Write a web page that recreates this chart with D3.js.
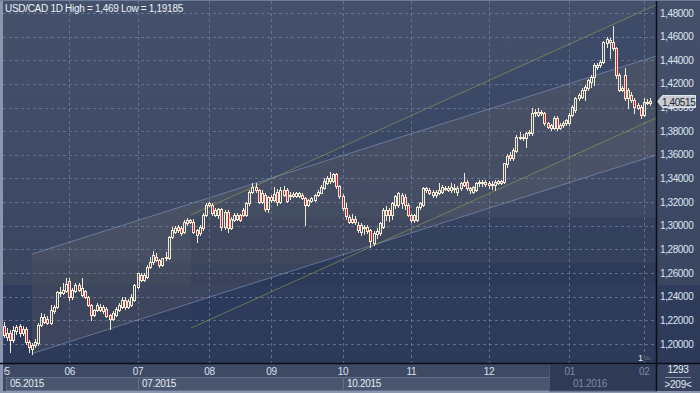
<!DOCTYPE html>
<html><head><meta charset="utf-8">
<script src="https://cdn.jsdelivr.net/npm/d3@7"></script>
<style>html,body{margin:0;padding:0;background:#3a4661;overflow:hidden}svg{display:block}</style>
</head><body><svg id="c" width="700" height="393"></svg>
<script>
// ---------------- DATA ----------------
const symbol = "USD/CAD", period = "1D";
const openP = [
1.2152,1.2062,1.2090,1.2034,1.2110,1.2150,1.2090,1.2130,1.2020,1.1960,
1.1990,1.2010,1.2160,1.2190,1.2215,1.2175,1.2275,1.2315,1.2430,1.2430,
1.2445,1.2530,1.2400,1.2450,1.2500,1.2414,1.2450,1.2400,1.2330,1.2245,
1.2287,1.2315,1.2275,1.2300,1.2245,1.2210,1.2245,1.2287,1.2315,1.2372,
1.2315,1.2330,1.2372,1.2485,1.2583,1.2541,1.2570,1.2654,1.2690,1.2740,
1.2710,1.2668,1.2724,1.2725,1.2908,1.2950,1.2990,1.2980,1.2950,1.3020,
1.3035,1.3035,1.2964,1.2936,1.2980,1.3091,1.3176,1.3176,1.3090,1.3090,
1.3140,1.2990,1.3120,1.2980,1.3050,1.3060,1.3090,1.3133,1.3091,1.3190,
1.3290,1.3330,1.3300,1.3200,1.3260,1.3140,1.3240,1.3215,1.3290,1.3200,
1.3300,1.3300,1.3250,1.3265,1.3250,1.3255,1.3260,1.3235,1.3175,1.3210,
1.3218,1.3260,1.3280,1.3320,1.3360,1.3375,1.3380,1.3435,1.3335,1.3250,
1.3150,1.3077,1.3035,1.3060,1.3010,1.2950,1.2978,1.2992,1.2964,1.2851,
1.2930,1.2936,1.2992,1.3091,1.3133,1.3091,1.3180,1.3176,1.3190,1.3246,
1.3176,1.3091,1.3049,1.3049,1.3160,1.3176,1.3300,1.3303,1.3260,1.3260,
1.3274,1.3288,1.3320,1.3305,1.3303,1.3320,1.3288,1.3317,1.3345,1.3373,
1.3303,1.3288,1.3303,1.3359,1.3373,1.3355,1.3365,1.3355,1.3345,1.3360,
1.3365,1.3373,1.3520,1.3599,1.3570,1.3630,1.3745,1.3754,1.3740,1.3782,
1.3782,1.3951,1.3937,1.3951,1.3951,1.3867,1.3824,1.3824,1.3909,1.3824,
1.3850,1.3867,1.3867,1.3937,1.3979,1.4078,1.4092,1.4149,1.4163,1.4219,
1.4261,1.4346,1.4360,1.4388,1.4543,1.4557,1.4557,1.4501,1.4149,1.4149,
1.4275,1.4078,1.4106,1.4064,1.3993,1.4008,1.3937,1.4040,1.4036];
const highP = [
1.2189,1.2132,1.2118,1.2150,1.2160,1.2165,1.2150,1.2140,1.2030,1.2005,
1.2040,1.2175,1.2260,1.2250,1.2240,1.2330,1.2330,1.2450,1.2480,1.2520,
1.2555,1.2555,1.2470,1.2520,1.2520,1.2555,1.2460,1.2410,1.2340,1.2300,
1.2350,1.2340,1.2330,1.2315,1.2255,1.2275,1.2310,1.2350,1.2400,1.2400,
1.2380,1.2420,1.2510,1.2600,1.2600,1.2600,1.2670,1.2740,1.2790,1.2770,
1.2720,1.2730,1.2780,1.2915,1.2990,1.3000,1.3010,1.2995,1.3050,1.3070,
1.3060,1.3055,1.2975,1.3010,1.3105,1.3190,1.3200,1.3195,1.3150,1.3150,
1.3150,1.3135,1.3130,1.3075,1.3110,1.3105,1.3100,1.3150,1.3200,1.3300,
1.3360,1.3365,1.3310,1.3300,1.3275,1.3250,1.3260,1.3330,1.3310,1.3330,
1.3340,1.3320,1.3290,1.3290,1.3290,1.3285,1.3275,1.3245,1.3225,1.3245,
1.3270,1.3300,1.3345,1.3400,1.3420,1.3458,1.3450,1.3445,1.3345,1.3265,
1.3190,1.3095,1.3100,1.3080,1.3030,1.3020,1.3010,1.3005,1.2975,1.2960,
1.2980,1.3035,1.3150,1.3170,1.3150,1.3200,1.3260,1.3290,1.3275,1.3270,
1.3190,1.3100,1.3100,1.3170,1.3200,1.3330,1.3330,1.3320,1.3300,1.3305,
1.3359,1.3345,1.3335,1.3340,1.3365,1.3350,1.3340,1.3370,1.3444,1.3385,
1.3330,1.3340,1.3370,1.3385,1.3385,1.3385,1.3380,1.3380,1.3385,1.3390,
1.3390,1.3535,1.3610,1.3620,1.3660,1.3770,1.3790,1.3780,1.3795,1.3810,
1.3993,1.3985,1.3993,1.3980,1.3965,1.3880,1.3865,1.3925,1.3925,1.3870,
1.3885,1.3905,1.3950,1.4020,1.4090,1.4120,1.4165,1.4190,1.4245,1.4275,
1.4375,1.4380,1.4400,1.4565,1.4600,1.4590,1.4690,1.4515,1.4290,1.4180,
1.4332,1.4165,1.4130,1.4080,1.4040,1.4020,1.4085,1.4070,1.4080];
const lowP = [
1.2062,1.2034,1.1935,1.2020,1.2085,1.2070,1.2075,1.2000,1.1935,1.19185,
1.1975,1.1995,1.2150,1.2180,1.2165,1.2170,1.2265,1.2305,1.2410,1.2420,
1.2440,1.2372,1.2380,1.2440,1.2445,1.2405,1.2390,1.2320,1.2203,1.2235,
1.2280,1.2275,1.2265,1.2230,1.2125,1.2200,1.2235,1.2280,1.2305,1.2300,
1.2305,1.2320,1.2360,1.2475,1.2530,1.2530,1.2560,1.2640,1.2680,1.2700,
1.2650,1.2660,1.2710,1.2715,1.2895,1.2940,1.2950,1.2920,1.2940,1.3010,
1.3020,1.2940,1.2865,1.2920,1.2965,1.3080,1.3165,1.3095,1.3080,1.3070,
1.2964,1.2975,1.2950,1.2970,1.3040,1.3045,1.3040,1.3080,1.3080,1.3180,
1.3280,1.3290,1.3190,1.3190,1.3125,1.3120,1.3200,1.3210,1.3180,1.3190,
1.3250,1.3200,1.3230,1.3240,1.3240,1.3245,1.3225,1.3006,1.3165,1.3200,
1.3210,1.3250,1.3275,1.3310,1.3350,1.3365,1.3370,1.3320,1.3235,1.3130,
1.3060,1.3020,1.3020,1.3015,1.2950,1.2920,1.2930,1.2940,1.2823,1.2840,
1.2900,1.2920,1.2980,1.3050,1.3040,1.3060,1.3150,1.3160,1.3150,1.3140,
1.3080,1.3035,1.3030,1.3040,1.3140,1.3165,1.3290,1.3265,1.3240,1.3245,
1.3265,1.3275,1.3300,1.3295,1.3290,1.3290,1.3260,1.3300,1.3335,1.3300,
1.3280,1.3275,1.3295,1.3340,1.3340,1.3340,1.3320,1.3310,1.3300,1.3350,
1.3355,1.3365,1.3500,1.3555,1.3560,1.3620,1.3730,1.3725,1.3669,1.3770,
1.3770,1.3930,1.3925,1.3940,1.3855,1.3825,1.3810,1.3815,1.3810,1.3815,
1.3835,1.3850,1.3855,1.3925,1.3965,1.4060,1.4080,1.4064,1.4150,1.4177,
1.4190,1.4330,1.4340,1.4375,1.4515,1.4420,1.4490,1.4250,1.4140,1.4140,
1.4060,1.4000,1.4050,1.3951,1.3985,1.3909,1.3925,1.4030,1.4020];
const closeP = [
1.2076,1.2090,1.2034,1.2118,1.2140,1.2090,1.2130,1.2020,1.1975,1.1990,
1.2020,1.2160,1.2230,1.2230,1.2175,1.2290,1.2315,1.2440,1.2440,1.2455,
1.2510,1.2400,1.2456,1.2500,1.2456,1.2470,1.2400,1.2330,1.2245,1.2287,
1.2330,1.2287,1.2315,1.2240,1.2215,1.2260,1.2300,1.2330,1.2372,1.2315,
1.2360,1.2400,1.2499,1.2597,1.2541,1.2583,1.2654,1.2696,1.2753,1.2710,
1.2668,1.2724,1.2740,1.2908,1.2964,1.2980,1.2964,1.2936,1.3035,1.3049,
1.3049,1.2950,1.2922,1.2992,1.3091,1.3176,1.3190,1.3105,1.3133,1.3140,
1.2990,1.3120,1.2980,1.3060,1.3090,1.3090,1.3050,1.3091,1.3190,1.3290,
1.3330,1.3300,1.3200,1.3280,1.3140,1.3240,1.3215,1.3270,1.3200,1.3300,
1.3260,1.3210,1.3260,1.3250,1.3275,1.3275,1.3235,1.3175,1.3215,1.3232,
1.3260,1.3290,1.3330,1.3380,1.3400,1.3405,1.3435,1.3335,1.3250,1.3150,
1.3080,1.3035,1.3060,1.3030,1.2964,1.3006,1.2992,1.2960,1.2870,1.2936,
1.2960,1.3021,1.3133,1.3133,1.3091,1.3190,1.3250,1.3274,1.3260,1.3176,
1.3091,1.3049,1.3091,1.3160,1.3190,1.3317,1.3317,1.3274,1.3288,1.3290,
1.3303,1.3330,1.3312,1.3317,1.3330,1.3310,1.3317,1.3359,1.3373,1.3317,
1.3317,1.3330,1.3359,1.3373,1.3359,1.3373,1.3345,1.3345,1.3373,1.3375,
1.3380,1.3528,1.3590,1.3570,1.3641,1.3754,1.3754,1.3740,1.3782,1.3796,
1.3951,1.3965,1.3965,1.3965,1.3867,1.3838,1.3852,1.3909,1.3824,1.3852,
1.3870,1.3895,1.3937,1.4008,1.4078,1.4106,1.4149,1.4177,1.4233,1.4261,
1.4360,1.4360,1.4388,1.4557,1.4577,1.4572,1.4501,1.4275,1.4275,1.4163,
1.4078,1.4149,1.4064,1.4008,1.4022,1.3937,1.4050,1.4050,1.40515];

const priceTicks = [1.20,1.22,1.24,1.26,1.28,1.30,1.32,1.34,1.36,1.38,1.40,1.42,1.44,1.46,1.48];
const monthLabels = ["05","06","07","08","09","10","11","12","01","02"];
const monthStartBar = [0,21,43,66,86,109,131,156,182,206];
const periodLabels = ["05.2015","07.2015","10.2015","01.2016"];
const periodStartBar = [0,43,109,182];
const scrollWindowStartBar = 175.5;
const totalBars = 1293;
const eventMarkerBar = 205;
// trend channels: [bar, price] end points of each border line
const grayTop    = [[9, 1.2761],  [210, 1.4436]];
const grayBottom = [[9, 1.19185], [210, 1.3599]];
const greenTop    = [[60.2, 1.3091], [210, 1.4868]];
const greenBottom = [[60.2, 1.2135], [210, 1.3912]];
// background zones: slightly darker area below these price floors from a bar onwards
const zoneFloors = [[-2, 1.2499], [9, 1.2685], [60.2, 1.3074]];

// ---------------- LAYOUT ----------------
const W = 700, H = 393;
const P = {l: 3, r: 656, t: 1, b: 363};
const x = d3.scaleLinear().domain([0, openP.length - 1]).range([4, 650]);
const y = d3.scaleLinear().domain([1.20, 1.48]).range([344, 13]);
const cream = "#f3ead4", red = "#e5142e";
const FONT = "Liberation Sans, Arial, sans-serif";
const fmtAxis = v => v.toFixed(5).replace(".", ",");
const fmtShort = v => String(+v.toFixed(5)).replace(".", ",");

const svg = d3.select("#c");
const defs = svg.append("defs");
const grad = defs.append("linearGradient").attr("id","bg").attr("gradientUnits","userSpaceOnUse")
  .attr("x1",0).attr("y1",0).attr("x2",0).attr("y2",P.b);
const stepT = y(1.2499) / P.b;
[[0,"#45516b"],[0.45,"#3f4b66"],[stepT,"#3a4560"],[stepT,"#2f3c5c"],[1,"#2c3959"]]
  .forEach(([o,c]) => grad.append("stop").attr("offset",o).attr("stop-color",c));
defs.append("clipPath").attr("id","clip").append("rect")
  .attr("x",P.l).attr("y",P.t).attr("width",P.r-P.l).attr("height",P.b-P.t);
defs.append("clipPath").attr("id","clipX").append("rect").attr("x",4).attr("y",P.b).attr("width",P.r-4).attr("height",30);

// frame & backgrounds
svg.append("rect").attr("width",W).attr("height",H).attr("fill","#8a96ad");
svg.append("rect").attr("x",P.l).attr("y",P.t).attr("width",W-P.l).attr("height",P.b-P.t).attr("fill","url(#bg)");

const plot = svg.append("g").attr("clip-path","url(#clip)");
// darker zones
const yBase = y(zoneFloors[0][1]);
zoneFloors.slice(1).forEach(z => {
  const x0 = Math.max(P.l, Math.round(x(z[0])));
  const yt = Math.round(y(z[1]));
  plot.append("rect").attr("x",x0).attr("y",yt).attr("width",P.r-x0).attr("height",Math.max(0,yBase-yt))
    .attr("fill","rgba(20,34,74,0.17)");
});
// channels
const poly = (a,b) => [a[0],a[1],b[1],b[0]].map(p => [x(p[0]), y(p[1])]);
const ext = (ln) => {
  const [p0,p1] = ln; const s = (p1[1]-p0[1])/(p1[0]-p0[0]);
  const bEnd = x.invert(P.r + 2);
  return [p0, [bEnd, p0[1] + s*(bEnd-p0[0])]];
};
const gT = ext(greenTop), gB = ext(greenBottom), sT = ext(grayTop), sB = ext(grayBottom);
plot.append("path").attr("d", d3.line()(poly(gT,gB))+"Z").attr("fill","rgba(30,44,92,0.15)");
plot.append("path").attr("d", d3.line()(poly(sT,sB))+"Z").attr("fill","rgba(125,118,100,0.19)");

// grid
plot.selectAll("line.hg").data(priceTicks).join("line")
  .attr("x1",P.l).attr("x2",P.r).attr("y1",d=>Math.round(y(d))+0.5).attr("y2",d=>Math.round(y(d))+0.5)
  .attr("stroke","#7483a0").attr("stroke-opacity",0.7).attr("stroke-dasharray","3,3");
plot.selectAll("line.vg").data(monthStartBar.slice(1)).join("line")
  .attr("x1",d=>Math.round(x(d))+0.5).attr("x2",d=>Math.round(x(d))+0.5).attr("y1",P.t).attr("y2",P.b)
  .attr("stroke","#7483a0").attr("stroke-opacity",0.7).attr("stroke-dasharray","3,3");

// channel borders
const lineGen = ln => d3.line()(ln.map(p=>[x(p[0]),y(p[1])]));
[sT,sB].forEach(ln => plot.append("path").attr("d",lineGen(ln)).attr("fill","none")
  .attr("stroke","rgba(140,158,200,0.55)").attr("stroke-width",1));
[gT,gB].forEach(ln => plot.append("path").attr("d",lineGen(ln)).attr("fill","none")
  .attr("stroke","rgba(150,170,85,0.55)").attr("stroke-width",1));

// candles
const bars = openP.map((o,i) => ({i, o, h: highP[i], l: lowP[i], c: closeP[i]}));
const cg = plot.append("g");
bars.forEach(d => {
  const cx = Math.round(x(d.i));
  const top = Math.round(y(Math.max(d.o,d.c)));
  const bot = Math.max(top+1, Math.round(y(Math.min(d.o,d.c))));
  const yh = Math.round(y(d.h)), yl = Math.round(y(d.l));
  if (yh < top) cg.append("line").attr("x1",cx+0.5).attr("x2",cx+0.5).attr("y1",yh).attr("y2",top).attr("stroke",cream);
  if (yl > bot) cg.append("line").attr("x1",cx+0.5).attr("x2",cx+0.5).attr("y1",bot).attr("y2",yl+1).attr("stroke",cream);
  cg.append("rect").attr("x",cx-0.5).attr("y",top+0.5).attr("width",2).attr("height",bot-top)
    .attr("fill", d.c < d.o ? red : "none").attr("stroke",cream).attr("stroke-width",1);
});

// event marker
const mx = Math.round(x(eventMarkerBar));
svg.append("text").attr("x",mx-3).attr("y",361).attr("font-family",FONT)
  .attr("font-size",9).attr("fill","#e8edf5").text("1");
svg.append("path").attr("d",`M${mx+3},360 L${mx+6.5},355.5 L${mx+10},360 Z`).attr("fill","#4b5569");

// header
svg.append("text").attr("x",5).attr("y",12).attr("font-family",FONT)
  .attr("font-size",10).attr("letter-spacing","-0.3px").attr("fill","#eef2f8")
  .text(`${symbol} ${period} High = ${fmtShort(d3.max(highP))} Low = ${fmtShort(d3.min(lowP))}`);

// right axis
const last = closeP[closeP.length-1], ly = Math.round(y(last));
svg.append("g").selectAll("text").data(priceTicks).join("text")
  .attr("x",660).attr("y",d=>y(d)+3.5).attr("font-family",FONT)
  .attr("font-size",10).attr("letter-spacing","-0.4px").attr("fill","#dfe6f2").text(fmtAxis);
svg.append("path").attr("d",`M657.5,${ly+0.5} L662.5,${ly-5.5} L695.5,${ly-5.5} L695.5,${ly+6.5} L662.5,${ly+6.5} Z`)
  .attr("fill","#c7cbd2").attr("stroke","#e2e5ea");
svg.append("text").attr("x",662).attr("y",ly+4.5).attr("font-family",FONT)
  .attr("font-size",10).attr("letter-spacing","-0.4px").attr("fill","#1d2434").text(fmtAxis(last));

// bottom axis
svg.append("rect").attr("x",P.l).attr("y",P.b).attr("width",P.r-P.l).attr("height",H-2-P.b).attr("fill","#3e4a64");
svg.append("rect").attr("x",P.r).attr("y",P.b).attr("width",W-P.r).attr("height",H-2-P.b).attr("fill","#37435e");
const xb = svg.append("g");
periodStartBar.forEach((s,k) => {
  const x0 = Math.max(6, Math.round(x(s)));
  const x1 = k < periodStartBar.length-1 ? Math.round(x(periodStartBar[k+1])) : P.r;
  xb.append("rect").attr("x",x0+0.5).attr("y",377.5).attr("width",x1-x0).attr("height",13)
    .attr("fill","#4a566f").attr("stroke","#617089");
});
const wx = Math.round(x(scrollWindowStartBar));
xb.append("rect").attr("x",wx+0.5).attr("y",364).attr("width",P.r-wx).attr("height",27)
  .attr("fill","#2e3a56").attr("stroke","#4d5972");
periodStartBar.forEach((s,k) => {
  const x0 = Math.max(6, Math.round(x(s)));
  xb.append("text").attr("x",x0+4).attr("y",387).attr("font-family",FONT)
    .attr("font-size",10).attr("letter-spacing","-0.3px")
    .attr("fill", x(s) >= wx ? "#7f8da8" : "#e6ebf3").text(periodLabels[k]);
});
const xlab = xb.append("g").attr("clip-path","url(#clipX)");
monthStartBar.forEach((s,k) => {
  xlab.append("text").attr("x",x(s)+0.5).attr("y",375).attr("text-anchor","middle")
    .attr("font-family",FONT).attr("font-size",10).attr("letter-spacing","-0.3px")
    .attr("fill", x(s) >= wx ? "#7f8da8" : "#d9e1f0").text(monthLabels[k]);
});
// bottom-right counters
svg.append("text").attr("x",678).attr("y",373).attr("text-anchor","middle").attr("font-family",FONT)
  .attr("font-size",10).attr("letter-spacing","-0.3px").attr("fill","#e6ebf3").text(totalBars);
svg.append("line").attr("x1",665).attr("x2",691).attr("y1",377.5).attr("y2",377.5).attr("stroke","#8290aa");
svg.append("text").attr("x",678).attr("y",388).attr("text-anchor","middle").attr("font-family",FONT)
  .attr("font-size",10).attr("letter-spacing","-0.3px").attr("fill","#e6ebf3").text(`>${openP.length}<`);

// separators & frame lines
svg.append("line").attr("x1",0).attr("x2",W).attr("y1",P.b+0.5).attr("y2",P.b+0.5).attr("stroke","#0a0d14").attr("stroke-width",1.5);
svg.append("line").attr("x1",P.r+0.5).attr("x2",P.r+0.5).attr("y1",0).attr("y2",H-2).attr("stroke","#0a0d14").attr("stroke-width",1.5);
svg.append("line").attr("x1",0).attr("x2",W).attr("y1",0.5).attr("y2",0.5).attr("stroke","#6f7c96");
</script></body></html>
